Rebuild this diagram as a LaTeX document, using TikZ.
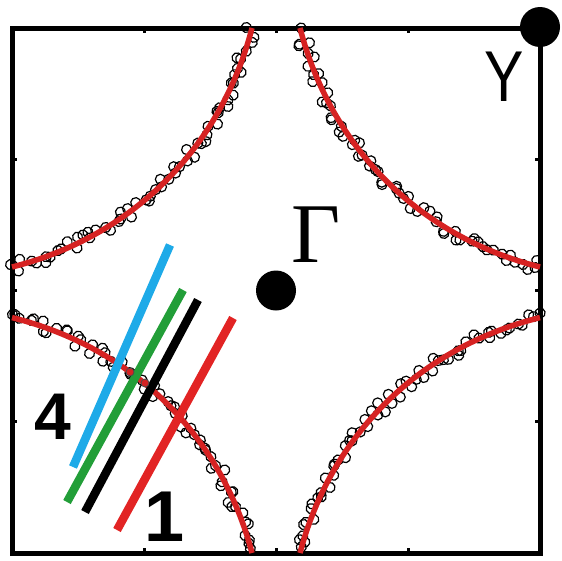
\documentclass[tikz,border=0pt]{standalone}
\usepackage{fontspec}
\setmainfont{Liberation Sans}
\newfontfamily\gserif{Liberation Serif}
\usetikzlibrary{decorations.markings}
\definecolor{arcred}{RGB}{214,34,34}
\definecolor{lcyan}{RGB}{30,170,232}
\definecolor{lgreen}{RGB}{34,158,56}
\definecolor{lred}{RGB}{226,36,36}
\newcommand{\fsarcpath}{(0,239) .. controls (120,209) and (209,120) .. (240,0)}
\tikzset{
  boxline/.style={line width=5pt, black},
  tickline/.style={line width=3pt, black},
  fsarc/.style={draw=arcred, line width=5.5pt},
  datapts/.style={postaction={decorate}, decoration={markings,
      mark=between positions 0.005 and 0.995 step 0.026 with {
        \pgfmathsetmacro\rx{rand*4}\pgfmathsetmacro\ry{rand*6}
        \draw[black, line width=1.2pt] (\rx pt,\ry pt) circle (5pt);}}},
  datapts2/.style={postaction={decorate}, decoration={markings,
      mark=between positions 0.015 and 0.985 step 0.045 with {
        \pgfmathsetmacro\rx{rand*4}\pgfmathsetmacro\ry{rand*6}
        \draw[black, line width=1.2pt] (\rx pt,\ry pt) circle (5pt);}}},
  cutline/.style={line width=8.5pt},
  bigdot/.style={circle, fill=black, inner sep=0pt},
  smalldot/.style={circle, fill=arcred, draw=black!70, line width=0.8pt, inner sep=0pt, minimum size=8pt},
  lbl/.style={inner sep=0pt, text=black}
}
\begin{document}
\begin{tikzpicture}[x=1pt,y=-1pt]
\useasboundingbox (0,0) rectangle (562,560);
\fill[white] (0,0) rectangle (562,560);
\pgfmathsetseed{12}
% frame
\draw[boxline] (12,28) rectangle (540,553);
\foreach \q in {159.25,290.5,421.75}{
  \draw[tickline] (12,\q) -- (17,\q);
  \draw[tickline] (540,\q) -- (535,\q);
}
\foreach \q in {144,276,408}{
  \draw[tickline] (\q,28) -- (\q,33);
  \draw[tickline] (\q,553) -- (\q,548);
}
% Fermi surface arcs with data points
\begin{scope}[shift={(12,28)}]
  \path[datapts] \fsarcpath; \path[datapts2] \fsarcpath;
  \draw[fsarc] \fsarcpath;
\end{scope}
\begin{scope}[shift={(540,28)}, xscale=-1]
  \path[datapts] \fsarcpath; \path[datapts2] \fsarcpath;
  \draw[fsarc] \fsarcpath;
\end{scope}
\begin{scope}[shift={(12,553)}, yscale=-1, yscale=0.985]
  \path[datapts] \fsarcpath; \path[datapts2] \fsarcpath;
  \draw[fsarc] \fsarcpath;
\end{scope}
\begin{scope}[shift={(540,553)}, xscale=-1, yscale=-1, yscale=0.985]
  \path[datapts] \fsarcpath; \path[datapts2] \fsarcpath;
  \draw[fsarc] \fsarcpath;
\end{scope}
% cut lines
\coordinate (c1) at (170,245); \coordinate (c2) at (73,467);
\coordinate (g1) at (183,290); \coordinate (g2) at (67,502);
\coordinate (k1) at (198,300); \coordinate (k2) at (85,512);
\coordinate (r1) at (233,318); \coordinate (r2) at (117,530);
\draw[cutline, lcyan] (c1) -- (c2);
\draw[cutline, lgreen] (g1) -- (g2);
\draw[cutline, black] (k1) -- (k2);
\draw[cutline, lred] (r1) -- (r2);
\node[smalldot] (i1) at (130,372) {};
\node[smalldot] (i2) at (145,383) {};
% points
\node[bigdot, minimum size=40pt] (gdot) at (276,290.5) {};
\node[bigdot, minimum size=40pt] (ydot) at (540,27) {};
% labels
\node[lbl, font=\gserif\fontsize{85}{85}\selectfont] (gam) at (316,235) {Γ};
\node[lbl, font=\fontsize{72}{72}\selectfont, xscale=0.82] (ylab) at (504,77) {Y};
\node[lbl, font=\bfseries\fontsize{66}{66}\selectfont] (four) at (52.5,416.5) {4};
\node[lbl, font=\bfseries\fontsize{72}{72}\selectfont] (one) at (165,517) {1};
\end{tikzpicture}
\end{document}
